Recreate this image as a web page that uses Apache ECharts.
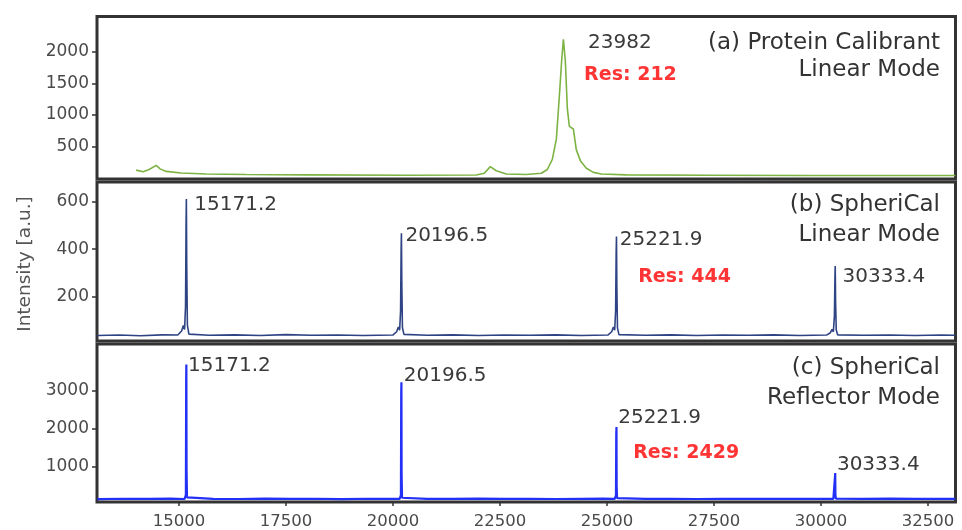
<!DOCTYPE html>
<html>
<head>
<meta charset="utf-8">
<script src="https://cdn.jsdelivr.net/npm/echarts@6/dist/echarts.min.js"></script>
<style>
  html, body { margin: 0; padding: 0; background: #fff; }
  #chart { width: 962px; height: 530px; }
</style>
</head>
<body>
<div id="chart"></div>
<script>
// Mass axis (m/z) shared by the three spectra
const MZ_MIN = 13083;
const MZ_MAX = 33144;
const mzTicks = [15000, 17500, 20000, 22500, 25000, 27500, 30000, 32500];

// (a) protein calibrant, linear mode
const calibrantMz = [13997, 14161, 14301, 14465, 14558, 14698, 15049, 15634, 16569, 17972,
  20310, 21946, 22133, 22274, 22414, 22648, 23115, 23466, 23606, 23723,
  23817, 23887, 23945, 23982, 24027, 24074, 24121, 24167, 24214, 24284,
  24378, 24518, 24682, 24870, 25453, 27324, 29662, 32000, 33140];
const calibrantIntensity = [130, 105, 140, 205, 150, 110, 85, 70, 60, 55,
  50, 52, 80, 185, 120, 70, 60, 80, 140, 300,
  620, 1300, 1900, 2196, 1850, 1100, 820, 840, 780, 450,
  280, 160, 95, 70, 55, 50, 45, 45, 45];
const calibrantPeaks = [23982];
const calibrantRes = 212;
const calibrantTicks = [500, 1000, 1500, 2000];

// (b) SpheriCal, linear mode
const linearMz = [13090, 13600, 14100, 14600, 14970, 15060, 15100, 15130, 15152, 15165,
  15171.2, 15180, 15195, 15230, 15700, 16300, 16900, 17500, 18100, 18700,
  19300, 19995, 20085, 20125, 20155, 20177, 20190, 20196.5, 20205, 20220,
  20255, 20800, 21400, 22000, 22600, 23200, 23800, 24400, 25020, 25110,
  25150, 25180, 25202, 25215, 25221.9, 25230, 25245, 25280, 25900, 26500,
  27100, 27700, 28300, 28900, 29500, 30130, 30220, 30260, 30290, 30315,
  30327, 30333.4, 30342, 30357, 30390, 31000, 31600, 32200, 32800, 33140];
const linearIntensity = [36, 38, 35, 39, 38, 55, 78, 62, 160, 520,
  611, 330, 80, 42, 37, 39, 36, 40, 37, 38,
  36, 38, 52, 72, 58, 140, 400, 467, 260, 70,
  41, 37, 39, 36, 38, 37, 39, 36, 38, 52,
  72, 58, 140, 390, 453, 250, 68, 40, 37, 39,
  36, 38, 37, 39, 36, 38, 48, 62, 52, 120,
  280, 329, 180, 60, 39, 37, 38, 36, 38, 37];
const linearPeaks = [15171.2, 20196.5, 25221.9, 30333.4];
const linearRes = 444;
const linearTicks = [200, 400, 600];

// (c) SpheriCal, reflector mode
const reflectorMz = [13090, 13700, 14300, 14800, 15130, 15160, 15167, 15171.2, 15176, 15186,
  15215, 15800, 16400, 17000, 17600, 18200, 18800, 19400, 19900, 20155,
  20185, 20192, 20196.5, 20201, 20211, 20240, 20800, 21400, 22000, 22600,
  23200, 23800, 24400, 24900, 25180, 25210, 25217, 25221.9, 25226, 25236,
  25265, 25900, 26500, 27100, 27700, 28300, 28900, 29500, 30000, 30290,
  30320, 30328, 30333.4, 30338, 30348, 30380, 31000, 31600, 32200, 32800,
  33140];
const reflectorIntensity = [145, 155, 150, 158, 148, 260, 3300, 3683, 900, 190,
  150, 152, 148, 156, 150, 154, 147, 155, 150, 150,
  250, 2900, 3216, 800, 180, 150, 153, 149, 157, 151,
  155, 148, 152, 156, 150, 240, 1850, 2041, 500, 170,
  150, 150, 154, 148, 155, 150, 153, 149, 155, 150,
  200, 740, 830, 260, 160, 150, 151, 156, 149, 154,
  150];
const reflectorPeaks = [15171.2, 20196.5, 25221.9, 30333.4];
const reflectorRes = 2429;
const reflectorTicks = [1000, 2000, 3000];

const zip = (xs, ys) => xs.map((x, i) => [x, ys[i]]);
const apex = (xs, ys, mz) => [mz, ys[xs.indexOf(mz)]];
const plain = v => String(v);

const FONT = 'DejaVu Sans';
const INK = '#3a3a3a';

// one stacked panel: grid box in pixels and intensity range
const panels = [
  { top: 16.5, height: 162.5, yMin: -10, yMax: 2556, ticks: calibrantTicks },
  { top: 182, height: 159, yMin: 13, yMax: 683, ticks: linearTicks },
  { top: 344, height: 162.5, yMin: 69, yMax: 4220, ticks: reflectorTicks }
];

const peakLabel = (pt, off) => ({
  coord: pt,
  label: {
    show: true, position: 'right', distance: 0, offset: off,
    formatter: String(pt[0]),
    fontFamily: FONT, fontSize: 20, color: INK
  }
});
const resLabel = (pt, res, off) => ({
  coord: pt,
  label: {
    show: true, position: 'right', distance: 0, offset: off,
    formatter: 'Res: ' + res,
    fontFamily: FONT, fontSize: 19, fontWeight: 'bold', color: '#ff3535'
  }
});
const markPointBase = { symbol: 'circle', symbolSize: 0, itemStyle: { color: 'rgba(0,0,0,0)' } };

const calApex = calibrantPeaks.map(m => apex(calibrantMz, calibrantIntensity, m));
const linApex = linearPeaks.map(m => apex(linearMz, linearIntensity, m));
const refApex = reflectorPeaks.map(m => apex(reflectorMz, reflectorIntensity, m));

const linOffsets = [[8, 6], [4, 3], [3.3, 3.3], [7.4, 10.7]];
const refOffsets = [[1.7, 1.7], [2.4, -6.6], [1.7, -9.3], [1.7, -8.4]];

const titleFont = '23px "DejaVu Sans"';
const title = (text, y) => ({
  type: 'text', x: 940, y: y,
  style: { text: text, align: 'right', verticalAlign: 'middle', font: titleFont, fill: '#333' }
});

const chart = echarts.init(document.getElementById('chart'), null, { renderer: 'canvas' });

chart.setOption({
  animation: false,
  backgroundColor: '#fff',
  grid: panels.map(p => ({
    left: 97, right: 6.5, top: p.top, height: p.height,
    show: true, borderColor: '#333', borderWidth: 3, backgroundColor: 'transparent'
  })),
  xAxis: panels.map((p, i) => ({
    type: 'value', gridIndex: i, min: MZ_MIN, max: MZ_MAX,
    axisLine: { show: false },
    splitLine: { show: false },
    axisTick: {
      show: i === 2, customValues: mzTicks, length: 4, inside: false,
      lineStyle: { color: '#333', width: 1.5 }
    },
    axisLabel: {
      show: i === 2, customValues: mzTicks, margin: 11, formatter: plain,
      fontFamily: FONT, fontSize: 16.5, color: '#4a4a4a'
    }
  })),
  yAxis: panels.map((p, i) => ({
    type: 'value', gridIndex: i, min: p.yMin, max: p.yMax,
    axisLine: { show: false },
    splitLine: { show: false },
    axisTick: {
      show: true, customValues: p.ticks, length: 5, inside: false,
      lineStyle: { color: '#333', width: 1.5 }
    },
    axisLabel: {
      customValues: p.ticks, margin: 8, formatter: plain,
      fontFamily: FONT, fontSize: 17, color: '#4a4a4a'
    }
  })),
  series: [
    {
      type: 'line', xAxisIndex: 0, yAxisIndex: 0, showSymbol: false,
      data: zip(calibrantMz, calibrantIntensity),
      lineStyle: { color: '#7cb342', width: 1.6 },
      markPoint: Object.assign({}, markPointBase, {
        data: [
          peakLabel(calApex[0], [24.7, 3.7]),
          resLabel(calApex[0], calibrantRes, [20.7, 35.7])
        ]
      })
    },
    {
      type: 'line', xAxisIndex: 1, yAxisIndex: 1, showSymbol: false,
      data: zip(linearMz, linearIntensity),
      lineStyle: { color: '#2e4384', width: 1.6 },
      markPoint: Object.assign({}, markPointBase, {
        data: linApex.map((pt, k) => peakLabel(pt, linOffsets[k]))
          .concat([resLabel(linApex[2], linearRes, [21.7, 40])])
      })
    },
    {
      type: 'line', xAxisIndex: 2, yAxisIndex: 2, showSymbol: false,
      data: zip(reflectorMz, reflectorIntensity),
      lineStyle: { color: '#2330f5', width: 2.2 },
      markPoint: Object.assign({}, markPointBase, {
        data: refApex.map((pt, k) => peakLabel(pt, refOffsets[k]))
          .concat([resLabel(refApex[2], reflectorRes, [16.7, 25.7])])
      })
    }
  ],
  graphic: [
    title('(a) Protein Calibrant', 43),
    title('Linear Mode', 70),
    title('(b) SpheriCal', 205),
    title('Linear Mode', 235),
    title('(c) SpheriCal', 368),
    title('Reflector Mode', 398),
    { type: 'text', x: 25, y: 264, rotation: Math.PI / 2,
      style: { text: 'Intensity [a.u.]', align: 'center', verticalAlign: 'middle', font: '18.5px "DejaVu Sans"', fill: '#555' } }
  ]
});
</script>
</body>
</html>
